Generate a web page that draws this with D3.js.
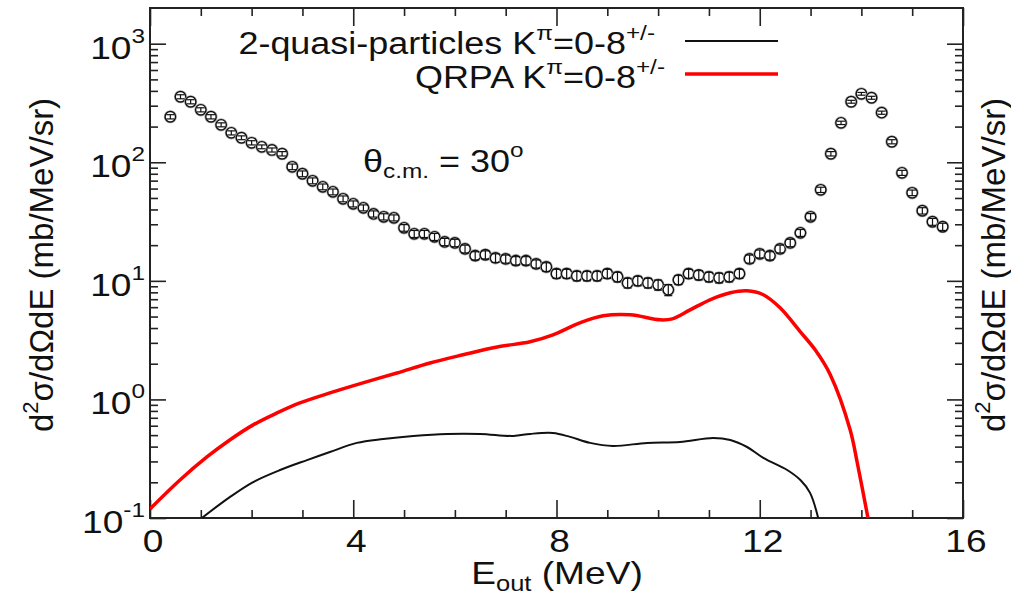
<!DOCTYPE html>
<html><head><meta charset="utf-8">
<script src="https://cdn.jsdelivr.net/npm/d3@7"></script>
<style>
body{margin:0;background:#fff}
text{font-family:"Liberation Sans", Arial, Helvetica, sans-serif;fill:#111}
</style>
</head><body>
<svg id="chart" width="1011" height="595"></svg>
<script>
// ---------- data ----------
const expEnergy = [0.4,0.6,0.8,1.0,1.2,1.4,1.6,1.8,2.0,2.2,2.4,2.6,2.8,3.0,3.2,3.4,3.6,3.8,4.0,4.2,4.4,4.6,4.8,5.0,5.2,5.4,5.6,5.8,6.0,6.2,6.4,6.6,6.8,7.0,7.2,7.4,7.6,7.8,8.0,8.2,8.4,8.6,8.8,9.0,9.2,9.4,9.6,9.8,10.0,10.2,10.4,10.6,10.8,11.0,11.2,11.4,11.6,11.8,12.0,12.2,12.4,12.6,12.8,13.0,13.2,13.4,13.6,13.8,14.0,14.2,14.4,14.6,14.8,15.0,15.2,15.4,15.6];
const expValue = [242,357,324,277,242,207,177,161,146,135,127,118,91.6,80,69.8,62.1,56.3,49.2,44.6,41.3,36.7,34.7,34.0,28.0,24.9,24.9,23.5,21.3,20.9,18.6,16.3,16.6,15.6,15.3,14.8,14.8,13.9,13.1,11.5,11.5,11.0,11.0,11.0,11.5,10.8,9.6,10.0,9.6,9.25,8.4,10.2,11.5,11.2,10.8,10.6,10.8,11.5,15.3,16.9,16.3,18.6,20.9,25.4,34.7,58.6,118,215,324,378,350,262,149,81.5,55.3,39.0,31.5,28.6];
const expError = [10,14,13,11,10,8,7,6,6,5,5,5,5,4.5,4,3.5,3.2,2.8,2.6,2.4,2.2,2.1,2,1.8,1.7,1.7,1.6,1.5,1.5,1.4,1.3,1.3,1.3,1.2,1.2,1.2,1.1,1.1,1.0,1.0,1.0,1.0,1.0,1.0,1.0,0.9,0.9,0.9,0.9,0.9,0.9,1.0,1.0,1.0,1.0,1.0,1.0,1.2,1.3,1.3,1.4,1.5,1.7,2.2,3,5,7,9,10,10,8,6,4,3,2.4,2.1,2.0];

const qrpaEnergy = [0,0.59,1.12,1.57,2.03,2.5,2.95,3.54,4.19,4.86,5.51,6.16,6.83,7.48,7.93,8.46,8.92,9.45,10.04,10.28,10.63,11.02,11.42,11.75,12.07,12.4,12.8,13.09,13.39,13.78,13.92,14.13];
const qrpaValue = [0.119,0.209,0.327,0.455,0.61,0.769,0.934,1.135,1.38,1.67,2.03,2.38,2.77,3.06,3.5,4.42,5.07,5.17,4.69,4.78,5.69,6.92,7.93,8.24,7.63,5.92,3.71,2.62,1.61,0.553,0.291,0.1];

const qpEnergy = [1.02,1.57,2.03,2.56,3.09,3.54,4.07,4.59,5.18,5.85,6.5,7.15,7.48,7.93,8.27,8.66,9.11,9.78,10.43,11.08,11.42,11.75,12.07,12.54,12.8,12.99,13.15];
const qpValue = [0.1,0.15,0.201,0.254,0.308,0.36,0.43,0.464,0.492,0.512,0.512,0.492,0.512,0.521,0.483,0.43,0.405,0.43,0.438,0.473,0.455,0.397,0.321,0.254,0.209,0.163,0.1];

const xMajorTicks = [0,4,8,12,16];
const xMinorTicks = [1,2,3,5,6,7,9,10,11,13,14,15];
const yMajorTicks = [0.1,1,10,100,1000];
const yMajorExp = ["-1","0","1","2","3"];
const yMinorTicks = [0.2,0.3,0.4,0.5,0.6,0.7,0.8,0.9,2,3,4,5,6,7,8,9,20,30,40,50,60,70,80,90,200,300,400,500,600,700,800,900];

// ---------- layout ----------
const L = 150, R = 963, T = 8, B = 518;
const SX = 1.16; // horizontal glyph stretch of the original
const svg = d3.select("#chart");
const x = d3.scaleLinear().domain([0,16]).range([L,R]);
const y = d3.scaleLog().domain([0.1,2000]).range([B,T]);

svg.append("defs").append("clipPath").attr("id","clip")
  .append("rect").attr("x",L).attr("y",T).attr("width",R-L).attr("height",B-T);

// ticks (inward on all four sides)
function tickAxis(gen, tr, vals, size){
  const g = svg.append("g").attr("transform",tr)
    .call(gen.tickValues(vals).tickSize(-size).tickFormat(""));
  g.select(".domain").remove();
  g.selectAll(".tick line").attr("stroke","#222").attr("stroke-width",1.6);
}
tickAxis(d3.axisBottom(x), `translate(0,${B})`, xMinorTicks, 8);
tickAxis(d3.axisBottom(x), `translate(0,${B})`, xMajorTicks, 18);
tickAxis(d3.axisTop(x), `translate(0,${T})`, xMinorTicks, 8);
tickAxis(d3.axisTop(x), `translate(0,${T})`, xMajorTicks, 18);
tickAxis(d3.axisLeft(y), `translate(${L},0)`, yMinorTicks, 8);
tickAxis(d3.axisLeft(y), `translate(${L},0)`, yMajorTicks, 16);
tickAxis(d3.axisRight(y), `translate(${R},0)`, yMinorTicks, 8);
tickAxis(d3.axisRight(y), `translate(${R},0)`, yMajorTicks, 16);

svg.append("rect").attr("x",L).attr("y",T).attr("width",R-L).attr("height",B-T)
  .attr("fill","none").attr("stroke","#222").attr("stroke-width",2);

// rich text helper: parts = [[str, kind]], kind: n | sup | sub
function richText(parent, transform, parts, anchor, size, opts={}){
  const small = opts.small || Math.round(size*0.66);
  const supUp = opts.supUp || size*0.5;
  const subDown = opts.subDown || size*0.25;
  const t = parent.append("text").attr("transform",transform)
    .attr("text-anchor",anchor).attr("font-size",size);
  let cur = 0;
  parts.forEach(([s,k])=>{
    let target = k==="sup" ? -supUp : (k==="sub" ? subDown : 0);
    t.append("tspan").attr("dy", target-cur)
      .attr("font-size", k==="n" ? size : small).text(s);
    cur = target;
  });
  return t;
}

// y tick labels
yMajorTicks.forEach((v,i)=>{
  richText(svg, `translate(145,${y(v)+15}) scale(${SX},1)`,
    [["10","n"],[yMajorExp[i],"sup"]], "end", 32, {small:21, supUp:16});
});
// x tick labels
xMajorTicks.forEach(v=>{
  svg.append("text").attr("transform",`translate(${x(v)+3},552) scale(${SX},1)`)
    .attr("text-anchor","middle").attr("font-size",32).text(v);
});
// axis titles
richText(svg, `translate(557,584) scale(${SX},1)`,
  [["E","n"],["out","sub"],[" (MeV)","n"]], "middle", 32, {small:22, subDown:7});
const yTitle = [["d","n"],["2","sup"],["σ/dΩdE (mb/MeV/sr)","n"]];
richText(svg, `translate(53,265) rotate(-90)`, yTitle, "middle", 33, {small:22, supUp:15});
richText(svg, `translate(1005,265) rotate(-90)`, yTitle, "middle", 33, {small:22, supUp:15});

// annotation
richText(svg, `translate(363,172) scale(${SX},1)`,
  [["θ","n"],["c.m.","sub"],[" = 30","n"],["o","sup"]], "start", 31, {small:21, subDown:6, supUp:15});

// curves
const plot = svg.append("g").attr("clip-path","url(#clip)");
const line = d3.line().x(d=>x(d[0])).y(d=>y(d[1])).curve(d3.curveCatmullRom.alpha(0.5));
plot.append("path").datum(qpEnergy.map((e,i)=>[e,qpValue[i]]))
  .attr("d",line).attr("fill","none").attr("stroke","#111").attr("stroke-width",2);
plot.append("path").datum(qrpaEnergy.map((e,i)=>[e,qrpaValue[i]]))
  .attr("d",line).attr("fill","none").attr("stroke","#ff0000").attr("stroke-width",3.5);

// experimental points
const pts = plot.selectAll("g.pt").data(expEnergy.map((e,i)=>({e, v:expValue[i], err:expError[i]})))
  .join("g").attr("class","pt");
pts.append("circle").attr("cx",d=>x(d.e)).attr("cy",d=>y(d.v)).attr("r",6)
  .attr("fill","#fff").attr("stroke","#aaa").attr("stroke-width",1.2);
pts.append("circle").attr("cx",d=>x(d.e)).attr("cy",d=>y(d.v)).attr("r",5.2)
  .attr("fill","none").attr("stroke","#111").attr("stroke-width",1.4);
pts.append("line").attr("x1",d=>x(d.e)).attr("x2",d=>x(d.e))
  .attr("y1",d=>y(d.v-d.err)).attr("y2",d=>y(d.v+d.err)).attr("stroke","#111").attr("stroke-width",1.2);
pts.append("line").attr("x1",d=>x(d.e)-4).attr("x2",d=>x(d.e)+4)
  .attr("y1",d=>y(d.v-d.err)).attr("y2",d=>y(d.v-d.err)).attr("stroke","#111").attr("stroke-width",1.2);
pts.append("line").attr("x1",d=>x(d.e)-4).attr("x2",d=>x(d.e)+4)
  .attr("y1",d=>y(d.v+d.err)).attr("y2",d=>y(d.v+d.err)).attr("stroke","#111").attr("stroke-width",1.2);

// legend
richText(svg, `translate(655,54) scale(${SX},1)`,
  [["2-quasi-particles K","n"],["π","sup"],["=0-8","n"],["+/-","sup"]], "end", 31, {small:21, supUp:14});
richText(svg, `translate(665,88) scale(${SX},1)`,
  [["QRPA K","n"],["π","sup"],["=0-8","n"],["+/-","sup"]], "end", 31, {small:21, supUp:14});
svg.append("line").attr("x1",685).attr("x2",778).attr("y1",41).attr("y2",41)
  .attr("stroke","#111").attr("stroke-width",2);
svg.append("line").attr("x1",685).attr("x2",778).attr("y1",74).attr("y2",74)
  .attr("stroke","#ff0000").attr("stroke-width",3.5);
</script>
</body></html>
